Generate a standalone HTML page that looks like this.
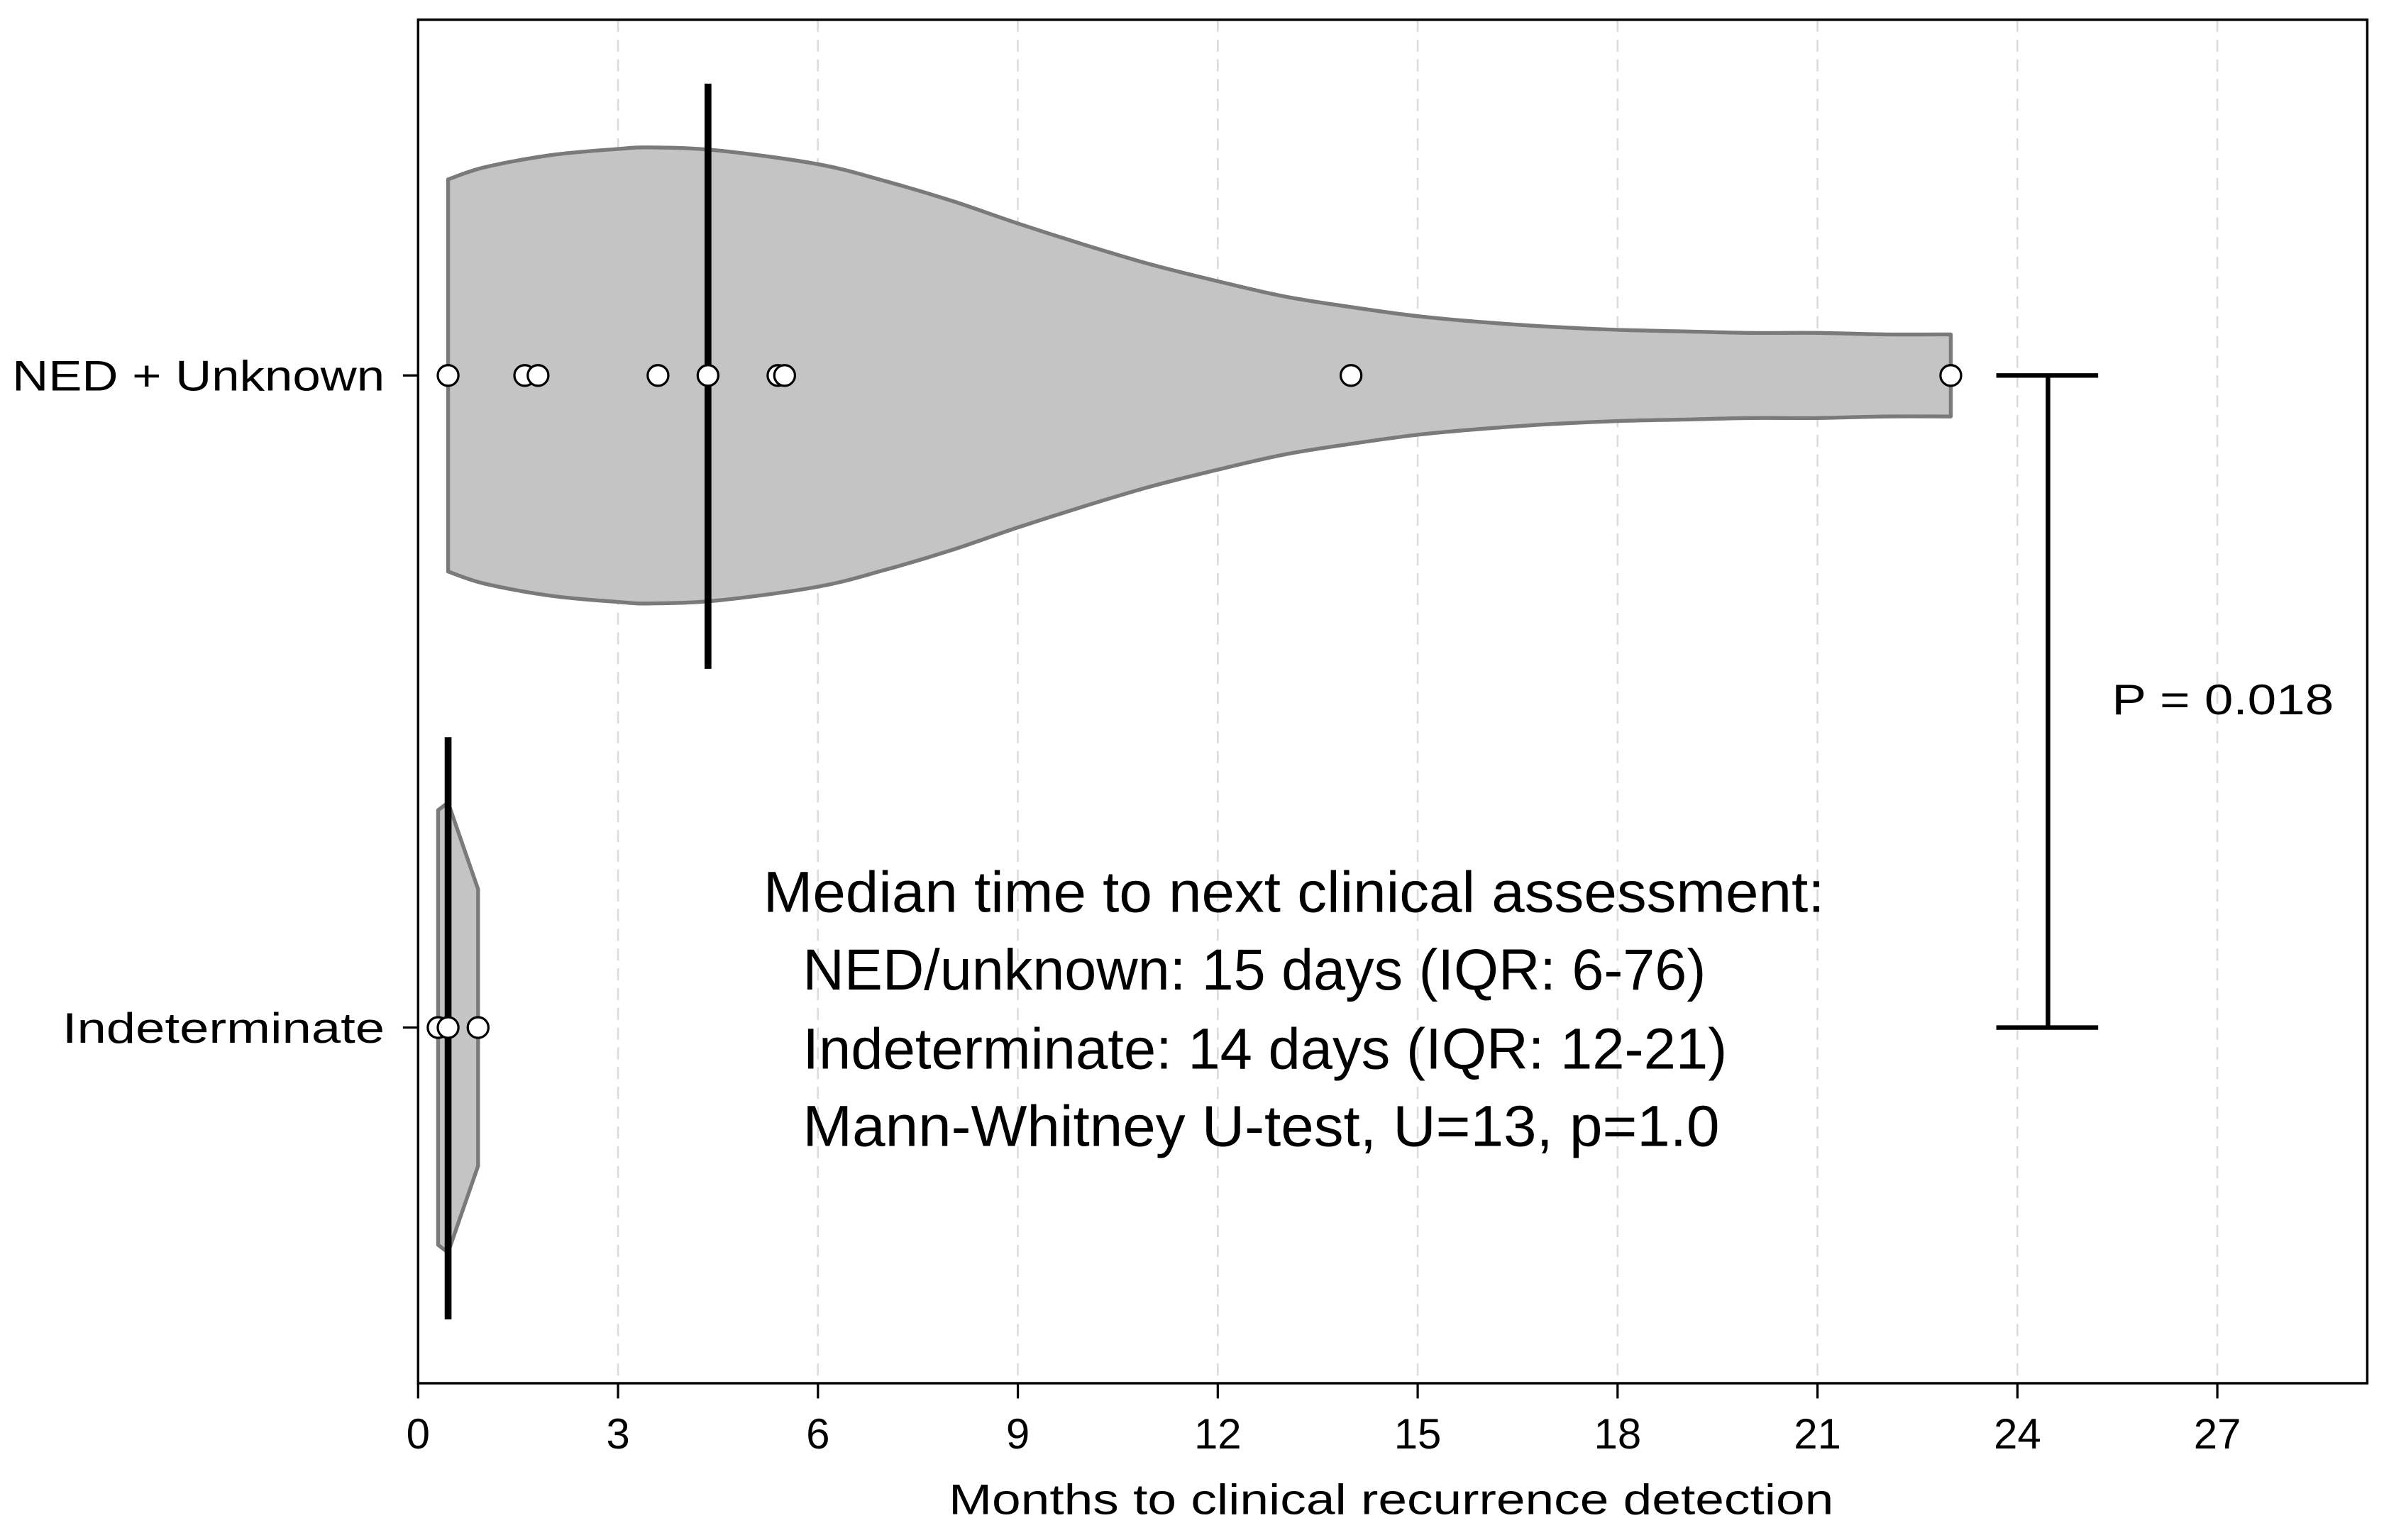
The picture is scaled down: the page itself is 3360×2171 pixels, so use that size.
<!DOCTYPE html>
<html><head><meta charset="utf-8">
<style>
html,body{margin:0;padding:0;background:#fff;}
svg{display:block;}
text{font-family:"Liberation Sans",sans-serif;fill:#000;}
</style></head>
<body>
<svg id="chart" width="3360" height="2171" viewBox="0 0 1568 1013.13" xmlns="http://www.w3.org/2000/svg">
<g id="grid"></g>
<g id="violins"></g>
<g id="medians"></g>
<g id="points"></g>
<rect x="275" y="13" width="1282" height="897" fill="none" stroke="#000" stroke-width="1.6"/>
<g id="xaxis"></g>
<g id="yaxis"></g>
<text x="915" y="996" font-size="28" text-anchor="middle" textLength="582" lengthAdjust="spacingAndGlyphs">Months to clinical recurrence detection</text>
<g stroke="#000" stroke-width="3">
<line x1="1347" y1="247" x2="1347" y2="676"/>
<line x1="1313" y1="247" x2="1380" y2="247"/>
<line x1="1313" y1="676" x2="1380" y2="676"/>
</g>
<text x="1389" y="470" font-size="28" textLength="146" lengthAdjust="spacingAndGlyphs">P = 0.018</text>
<g font-size="38">
<text x="502" y="600" textLength="698" lengthAdjust="spacingAndGlyphs">Median time to next clinical assessment:</text>
<text x="528" y="651" textLength="594" lengthAdjust="spacingAndGlyphs">NED/unknown: 15 days (IQR: 6-76)</text>
<text x="528" y="703" textLength="608" lengthAdjust="spacingAndGlyphs">Indeterminate: 14 days (IQR: 12-21)</text>
<text x="528" y="754" textLength="603" lengthAdjust="spacingAndGlyphs">Mann-Whitney U-test, U=13, p=1.0</text>
</g>
</svg>
<script>
// ---- data ----
const categories = ["NED + Unknown", "Indeterminate"];
const xTicks = [0, 3, 6, 9, 12, 15, 18, 21, 24, 27];
const nedPoints = [0.45, 1.6, 1.8, 3.6, 4.35, 5.4, 5.5, 14, 23];
const indPoints = [0.3, 0.45, 0.9];
const nedMedian = 4.35;
const indMedian = 0.45;
const nedProfileX = [0.45, 1, 2, 3, 3.5, 4.5, 6, 7, 8, 9, 10, 11, 12, 13, 14, 15, 16, 17, 18, 19, 20, 21, 22, 23];
const nedProfileW = [129, 137, 145, 149, 150, 148, 139, 128, 115, 100, 86, 73, 62, 52, 45, 39, 35, 32, 30, 29, 28, 28, 27, 27];
const indProfileX = [0.3, 0.45, 0.9];
const indProfileW = [143, 148, 91];

// ---- axes ----
const X0 = 275, X1 = 1557, XMAX = 29.25;
const x = v => X0 + v / XMAX * (X1 - X0);
const yCat = i => [247, 676][i];
const NS = "http://www.w3.org/2000/svg";
function mk(tag, attrs, parent) {
  const e = document.createElementNS(NS, tag);
  for (const k in attrs) e.setAttribute(k, attrs[k]);
  parent.appendChild(e);
  return e;
}
const grid = document.getElementById('grid');
const xaxis = document.getElementById('xaxis');
xTicks.forEach(t => {
  if (t > 0) {
    const g = mk('line', {x1: x(t), x2: x(t), y1: 13, y2: 910, stroke: '#dcdcdc', 'stroke-width': 1.2, 'stroke-dasharray': '8 5'}, grid);
    
    
  }
  const tk = mk('line', {x1: x(t), x2: x(t), y1: 910, y2: 920, stroke: '#000', 'stroke-width': 1.5}, xaxis);
  
  
  const lb = mk('text', {x: x(t), y: 953, 'font-size': 28, 'text-anchor': 'middle'}, xaxis);
  lb.textContent = t;
  
  
});
const yaxis = document.getElementById('yaxis');
const yLabW = [245, 212];
categories.forEach((c, i) => {
  const tk = mk('line', {x1: 265, x2: 275, y1: yCat(i), y2: yCat(i), stroke: '#000', 'stroke-width': 1.5}, yaxis);
  
  
  const lb = mk('text', {x: 253, y: yCat(i) + 10, 'font-size': 28, 'text-anchor': 'end', textLength: yLabW[i], lengthAdjust: 'spacingAndGlyphs'}, yaxis);
  lb.textContent = c;
  
  
});

// ---- violins ----
const violins = document.getElementById('violins');
function smoothPts(pts) {
  // Catmull-Rom to cubic bezier segments
  let d = '';
  for (let i = 0; i < pts.length - 1; i++) {
    const p0 = pts[Math.max(0, i - 1)], p1 = pts[i], p2 = pts[i + 1], p3 = pts[Math.min(pts.length - 1, i + 2)];
    const c1 = [p1[0] + (p2[0] - p0[0]) / 6, p1[1] + (p2[1] - p0[1]) / 6];
    const c2 = [p2[0] - (p3[0] - p1[0]) / 6, p2[1] - (p3[1] - p1[1]) / 6];
    d += ' C' + c1[0] + ',' + c1[1] + ' ' + c2[0] + ',' + c2[1] + ' ' + p2[0] + ',' + p2[1];
  }
  return d;
}
function violin(px, pw, cy, name, smooth) {
  const top = px.map((v, i) => [x(v), cy - pw[i]]);
  const bot = px.map((v, i) => [x(v), cy + pw[i]]).reverse();
  let d;
  if (smooth) {
    d = 'M' + top[0][0] + ',' + top[0][1] + smoothPts(top) + ' L' + bot[0][0] + ',' + bot[0][1] + smoothPts(bot) + ' Z';
  } else {
    d = 'M' + top.concat(bot).map(p => p[0] + ',' + p[1]).join(' L') + ' Z';
  }
  const p = mk('path', {d: d, fill: '#c4c4c4', stroke: '#7a7a7a', 'stroke-width': 2.5, 'stroke-linejoin': 'round'}, violins);
  
  
}
violin(nedProfileX, nedProfileW, yCat(0), 'violin-ned-unknown', true);
violin(indProfileX, indProfileW, yCat(1), 'violin-indeterminate', false);

// ---- medians ----
const medians = document.getElementById('medians');
const m1 = mk('line', {x1: x(nedMedian), x2: x(nedMedian), y1: 55, y2: 440, stroke: '#000', 'stroke-width': 4.5}, medians);


const m2 = mk('line', {x1: x(indMedian), x2: x(indMedian), y1: 485, y2: 868, stroke: '#000', 'stroke-width': 4.5}, medians);



// ---- points ----
const points = document.getElementById('points');
[[nedPoints, 0], [indPoints, 1]].forEach(([arr, ci]) => {
  arr.forEach(v => {
    const c = mk('circle', {cx: x(v), cy: yCat(ci), r: 6.8, fill: '#fff', stroke: '#000', 'stroke-width': 1.5}, points);
    
    
  });
});
</script>
</body></html>
